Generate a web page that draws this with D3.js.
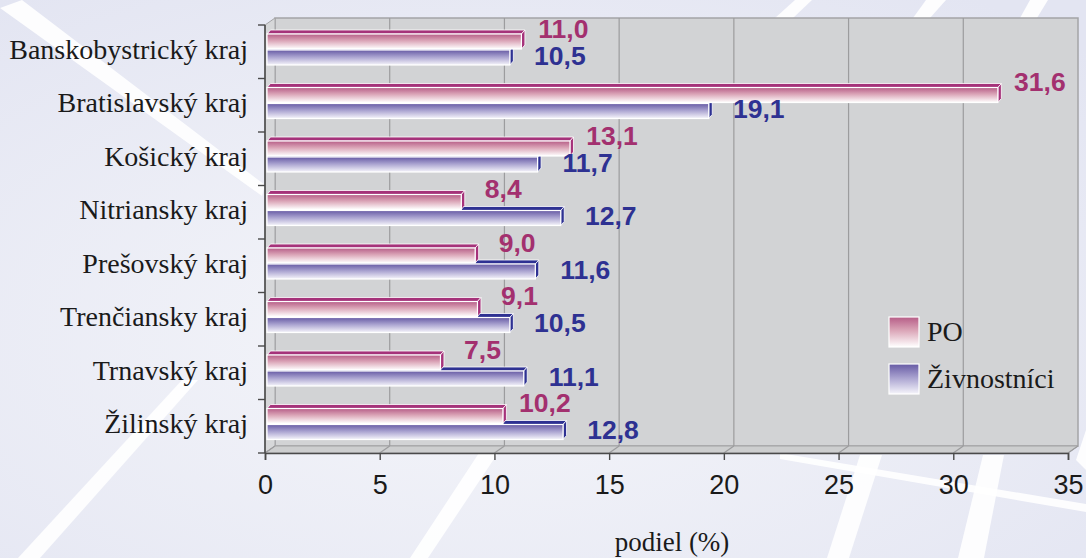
<!DOCTYPE html>
<html>
<head>
<meta charset="utf-8">
<script src="https://cdn.jsdelivr.net/npm/d3@7"></script>
<style>
  html, body { margin: 0; padding: 0; background: #eceef6; }
  svg { display: block; }
</style>
</head>
<body>
<svg id="chart" width="1086" height="558"></svg>
<script>
// data
const regions = ["Banskobystrický kraj", "Bratislavský kraj", "Košický kraj", "Nitriansky kraj",
                 "Prešovský kraj", "Trenčiansky kraj", "Trnavský kraj", "Žilinský kraj"];
const poValues = [11.0, 31.6, 13.1, 8.4, 9.0, 9.1, 7.5, 10.2];
const zivValues = [10.5, 19.1, 11.7, 12.7, 11.6, 10.5, 11.1, 12.8];
const seriesNames = ["PO", "Živnostníci"];
const xTicks = [0, 5, 10, 15, 20, 25, 30, 35];

const svg = d3.select("#chart");
const W = 1086, H = 558;

// 3d offsets of the walls and of the bars
const wallDx = 10, wallDy = -7;
const barDx = 3.5, barDy = -4;

const x = d3.scaleLinear().domain([0, 35]).range([265, 1068]);
const xBar = d3.scaleLinear().domain([0, 35]).range([267, 1076.5]);
const y = d3.scaleBand().domain(regions).range([25, 453]).padding(0);

const fmt = v => d3.format(".1f")(v).replace(".", ",");
const serif = "Liberation Serif, Times New Roman, serif";
const sans = "Liberation Sans, Arial, sans-serif";

const defs = svg.append("defs");

function vGrad(id, stops) {
    const g = defs.append("linearGradient").attr("id", id)
        .attr("x1", 0).attr("y1", 0).attr("x2", 0).attr("y2", 1);
    stops.forEach(s => g.append("stop").attr("offset", s[0]).attr("stop-color", s[1]));
}
vGrad("poGrad", [[0, "#b65d87"], [0.45, "#dba6b8"], [1, "#ffffff"]]);
vGrad("zivGrad", [[0, "#665aa4"], [0.45, "#a8a1cf"], [1, "#f6f5fb"]]);

const bg = defs.append("radialGradient").attr("id", "bgGrad")
    .attr("cx", 0.45).attr("cy", 0.6).attr("r", 0.75);
bg.append("stop").attr("offset", 0).attr("stop-color", "#f5f6fa");
bg.append("stop").attr("offset", 1).attr("stop-color", "#e3e5f2");

// background and white stripes
svg.append("rect").attr("width", W).attr("height", H).attr("fill", "url(#bgGrad)");

const stripes = [
    [[0, 8], [22, 0], [265, 185], [262, 196]],
    [[18, 558], [40, 558], [198, 380], [182, 380]],
    [[410, 558], [428, 558], [560, 360], [540, 360]],
    [[827, 558], [849, 558], [882, 455], [860, 455]],
    [[958, 558], [984, 558], [1004, 455], [983, 455]],
    [[780, 453], [1086, 504], [1086, 512], [780, 459]],
    [[775, 18], [793, 18], [812, 0], [795, 0]],
    [[913, 18], [930, 18], [946, 0], [926, 0]],
    [[1020, 18], [1037, 18], [1048, 0], [1030, 0]],
    [[1076, 460], [1086, 430], [1086, 470]]
];
svg.append("g").selectAll("polygon").data(stripes).join("polygon")
    .attr("points", d => d.map(p => p.join(",")).join(" "))
    .attr("fill", "#ffffff").attr("opacity", 0.9);

// walls
const top0 = y.range()[0], bot0 = y.range()[1];
const wallFill = "#d2d3d5", wallLine = "#a4a4a6";
svg.append("rect")
    .attr("x", x(0) + wallDx).attr("y", top0 + wallDy)
    .attr("width", x(35) - x(0)).attr("height", bot0 - top0)
    .attr("fill", wallFill).attr("stroke", wallLine).attr("stroke-width", 1.5);
svg.append("polygon")
    .attr("points", [[x(0), top0], [x(0) + wallDx, top0 + wallDy], [x(0) + wallDx, bot0 + wallDy], [x(0), bot0]].join(" "))
    .attr("fill", "#d6d7d9").attr("stroke", wallLine);
svg.append("polygon")
    .attr("points", [[x(0), bot0], [x(0) + wallDx, bot0 + wallDy], [x(35) + wallDx, bot0 + wallDy], [x(35), bot0]].join(" "))
    .attr("fill", "#cdcecf").attr("stroke", wallLine);

// gridlines on the back wall and floor
const grid = svg.append("g").attr("stroke", "#9c9c9e").attr("stroke-width", 1.2);
grid.selectAll("line.v").data(xTicks.slice(1, -1)).join("line")
    .attr("x1", d => x(d) + wallDx).attr("x2", d => x(d) + wallDx)
    .attr("y1", top0 + wallDy).attr("y2", bot0 + wallDy);
grid.selectAll("line.f").data(xTicks).join("line")
    .attr("x1", d => x(d) + wallDx).attr("x2", d => x(d))
    .attr("y1", bot0 + wallDy).attr("y2", bot0);

// axes
const xAxis = svg.append("g").attr("transform", `translate(0,${bot0})`)
    .call(d3.axisBottom(x).tickValues(xTicks).tickSize(7).tickPadding(15));
xAxis.select(".domain").attr("stroke", "#4a4a4a").attr("stroke-width", 1.6);
xAxis.selectAll(".tick line").attr("stroke", "#4a4a4a").attr("stroke-width", 1.4);
xAxis.selectAll(".tick text")
    .attr("font-family", sans)
    .attr("font-size", 27).attr("fill", "#1a1a1a");

const yAxis = svg.append("g").attr("transform", `translate(${x(0)},0)`);
yAxis.append("line").attr("y1", top0).attr("y2", bot0)
    .attr("stroke", "#4a4a4a").attr("stroke-width", 1.6);
yAxis.selectAll("line.t").data(d3.range(regions.length + 1)).join("line")
    .attr("x1", -7).attr("x2", 0)
    .attr("y1", i => top0 + i * y.step()).attr("y2", i => top0 + i * y.step())
    .attr("stroke", "#4a4a4a").attr("stroke-width", 1.4);
yAxis.selectAll("text").data(regions).join("text")
    .attr("x", -17).attr("y", d => y(d) + y.bandwidth() / 2 + 7)
    .attr("text-anchor", "end")
    .attr("font-family", serif)
    .attr("font-size", 28).attr("fill", "#1a1a1a")
    .text(d => d);

// 3d bar drawing
function bar(g, v, yTop, h, grad, dark) {
    const x0 = xBar(0), x1 = xBar(v);
    g.append("polygon")
        .attr("points", [[x0, yTop], [x1, yTop], [x1 + barDx, yTop + barDy], [x0 + barDx, yTop + barDy]].join(" "))
        .attr("fill", dark).attr("stroke", "#ffffff").attr("stroke-width", 0.8);
    g.append("polygon")
        .attr("points", [[x1, yTop], [x1 + barDx, yTop + barDy], [x1 + barDx, yTop + h + barDy], [x1, yTop + h]].join(" "))
        .attr("fill", dark).attr("stroke", "#ffffff").attr("stroke-width", 0.8);
    g.append("rect")
        .attr("x", x0).attr("y", yTop).attr("width", x1 - x0).attr("height", h)
        .attr("fill", `url(#${grad})`).attr("stroke", "#ffffff").attr("stroke-width", 1.2);
}

const poDark = "#a5327a", zivDark = "#2e3192";
const bars = svg.append("g");
regions.forEach((r, i) => {
    const g = bars.append("g");
    const t = y(r);
    bar(g, zivValues[i], t + 25, 15, "zivGrad", zivDark);
    bar(g, poValues[i], t + 9, 15, "poGrad", poDark);
});

// value labels
const labels = svg.append("g")
    .attr("font-family", sans)
    .attr("font-weight", "bold").attr("font-size", 26.5)
    .attr("text-anchor", "middle");
labels.selectAll("text.po").data(poValues).join("text")
    .attr("x", d => xBar(d) + 42)
    .attr("y", (d, i) => y(regions[i]) + 3 + 9.5)
    .attr("fill", "#a3306f")
    .text(fmt);
labels.selectAll("text.ziv").data(zivValues).join("text")
    .attr("x", d => xBar(d) + 50)
    .attr("y", (d, i) => y(regions[i]) + 30 + 9.5)
    .attr("fill", "#2e3192")
    .text(fmt);

// legend
const legend = svg.append("g").attr("transform", "translate(889,317)");
const legendGrads = ["poGrad", "zivGrad"];
seriesNames.forEach((s, i) => {
    legend.append("rect").attr("x", 0).attr("y", i * 47)
        .attr("width", 30).attr("height", 30)
        .attr("fill", `url(#${legendGrads[i]})`).attr("stroke", "#ffffff").attr("stroke-width", 1.2);
    legend.append("text").attr("x", 38).attr("y", i * 47 + 24)
        .attr("font-family", serif)
        .attr("font-size", 28).attr("fill", "#1a1a1a")
        .text(s);
});

// axis title
svg.append("text")
    .attr("x", 672).attr("y", 551)
    .attr("text-anchor", "middle")
    .attr("font-family", serif)
    .attr("font-size", 27).attr("fill", "#1a1a1a")
    .text("podiel (%)");
</script>
</body>
</html>
